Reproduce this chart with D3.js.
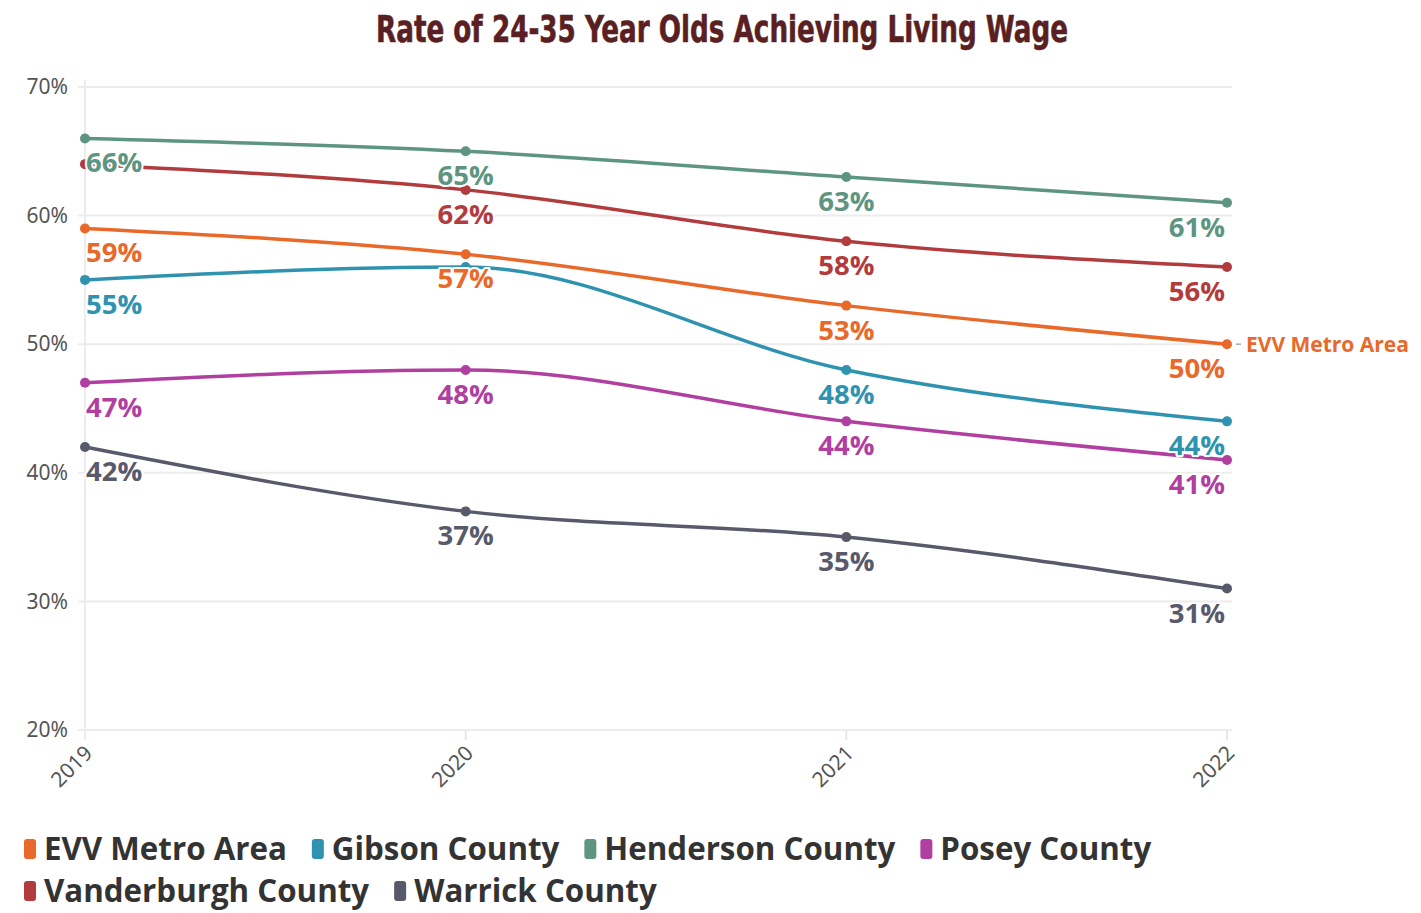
<!DOCTYPE html>
<html><head><meta charset="utf-8">
<script src="https://cdn.jsdelivr.net/npm/d3@7"></script>
<style>body{margin:0;background:#fff}</style>
</head><body><svg id="c" width="1421" height="913"></svg>
<script>
const years = ["2019","2020","2021","2022"];
const seriesNames = ["EVV Metro Area","Gibson County","Henderson County","Posey County","Vanderburgh County","Warrick County"];
const evv = [59,57,53,50];
const gibson = [55,56,48,44];
const henderson = [66,65,63,61];
const posey = [47,48,44,41];
const vanderburgh = [64,62,58,56];
const warrick = [42,37,35,31];
const colors = ["#e8692a","#2f93b0","#5e9580","#b13fa0","#b23b3e","#585a6b"];
const yTicks = [20,30,40,50,60,70];
// labels hidden in the original because of overlaps: [series index, year index]
const hiddenLabels = [[4,0],[1,1]];

const values = [evv,gibson,henderson,posey,vanderburgh,warrick];
const svg = d3.select("#c");
const x = d3.scalePoint().domain(years).range([85,1227]);
const y = d3.scaleLinear().domain([20,70]).range([730,87]);

svg.append("text").attr("x",722).attr("y",42).attr("text-anchor","middle")
  .attr("font-family","'Liberation Sans Narrow','DejaVu Sans Condensed',sans-serif")
  .attr("font-weight",700).attr("font-size",38).attr("fill","#5a1f22")
  .attr("stroke","#5a1f22").attr("stroke-width",0.6)
  .attr("textLength",692).attr("lengthAdjust","spacingAndGlyphs")
  .text("Rate of 24-35 Year Olds Achieving Living Wage");

// grid
const g = svg.append("g");
g.selectAll("line.h").data(yTicks).join("line")
  .attr("x1",78).attr("x2",1232).attr("y1",d=>y(d)).attr("y2",d=>y(d))
  .attr("stroke","#ececec").attr("stroke-width",2);
g.append("line").attr("x1",85).attr("x2",85).attr("y1",80).attr("y2",740)
  .attr("stroke","#ececec").attr("stroke-width",2);
g.selectAll("line.t").data(years.slice(1)).join("line")
  .attr("x1",d=>x(d)).attr("x2",d=>x(d)).attr("y1",730).attr("y2",740)
  .attr("stroke","#e6e6e6").attr("stroke-width",2);

// y axis labels
const yAxis = d3.axisLeft(y).tickValues(yTicks).tickFormat(d=>d+"%").tickSize(0).tickPadding(0);
const ya = svg.append("g").attr("transform","translate(68,0)").call(yAxis);
ya.select(".domain").remove();
ya.selectAll("text").attr("font-family","'Noto Sans',sans-serif").attr("font-size",21).attr("fill","#555");

// x axis labels
const xAxis = d3.axisBottom(x).tickSize(0).tickPadding(0);
const xa = svg.append("g").attr("transform","translate(0,742)").call(xAxis);
xa.select(".domain").remove();
xa.selectAll("text").attr("font-family","'Noto Sans',sans-serif").attr("font-size",21).attr("fill","#555")
  .attr("text-anchor","end").attr("dy","0.7em").attr("transform","rotate(-45) translate(-3,0)");

const line = d3.line().x((d,i)=>x(years[i])).y(d=>y(d)).curve(d3.curveMonotoneX);
const order = [5,3,1,0,4,2];
order.forEach(s=>{
  svg.append("path").datum(values[s]).attr("d",line).attr("fill","none")
    .attr("stroke",colors[s]).attr("stroke-width",3.5);
});
order.forEach(s=>{
  svg.append("g").selectAll("circle").data(values[s]).join("circle")
    .attr("cx",(d,i)=>x(years[i])).attr("cy",d=>y(d)).attr("r",5).attr("fill",colors[s]);
});
// labels
const isHidden=(s,i)=>hiddenLabels.some(h=>h[0]===s&&h[1]===i);
order.forEach(s=>{
  values[s].forEach((v,i)=>{
    if(isHidden(s,i)) return;
    const anchor = i===0?"start":(i===years.length-1?"end":"middle");
    const dx = i===0?1:(i===years.length-1?-2:0);
    svg.append("text").attr("x",x(years[i])+dx).attr("y",y(v)+34)
      .attr("text-anchor",anchor)
      .attr("font-family","'Open Sans',sans-serif").attr("font-weight",700).attr("font-size",27.5)
      .attr("fill",colors[s]).attr("stroke","#fff").attr("stroke-width",4)
      .attr("paint-order","stroke").attr("stroke-linejoin","round")
      .text(v+"%");
  });
});
// end label
const lastEvv = evv[evv.length-1];
svg.append("line").attr("x1",x("2022")+9).attr("x2",x("2022")+14)
  .attr("y1",y(lastEvv)).attr("y2",y(lastEvv)).attr("stroke","#aaa").attr("stroke-width",1.5);
svg.append("text").attr("x",x("2022")+19).attr("y",y(lastEvv)).attr("dy","0.35em")
  .attr("font-family","'Open Sans',sans-serif").attr("font-weight",700).attr("font-size",21)
  .attr("fill",colors[0]).text(seriesNames[0]);

// legend
const rows=[[0,1,2,3],[4,5]];
rows.forEach((r,ri)=>{
  let cx=24;
  const cy = 849+ri*42;
  r.forEach(s=>{
    svg.append("rect").attr("x",cx).attr("y",cy-10).attr("width",12).attr("height",20).attr("rx",3)
      .attr("fill",colors[s]);
    const t=svg.append("text").attr("x",cx+20).attr("y",cy).attr("dy","0.36em")
      .attr("font-family","'Open Sans',sans-serif").attr("font-weight",700).attr("font-size",31.3)
      .attr("fill","#333").text(seriesNames[s]);
    cx += 20 + t.node().getComputedTextLength() + 25;
  });
});
</script></body></html>
